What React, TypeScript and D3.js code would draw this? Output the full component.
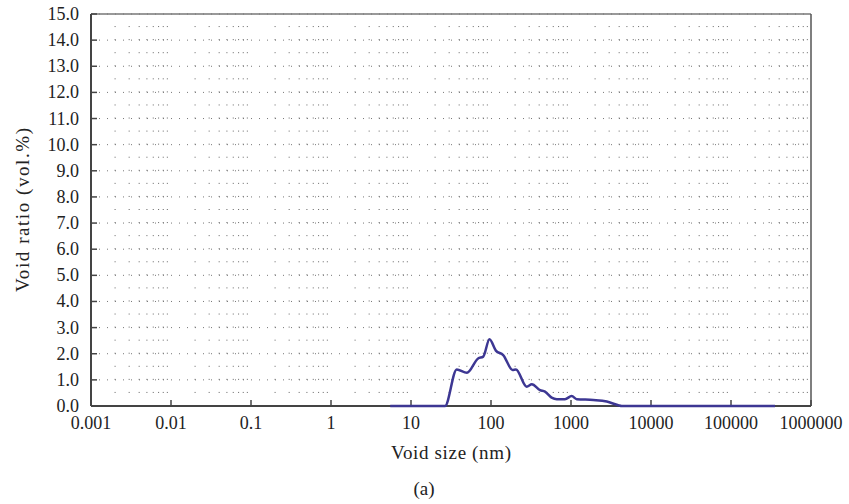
import React from "react";
import * as d3 from "d3";

const sizes = [5.5, 26.6, 37.3, 50, 69, 80, 95.7, 115, 142, 186, 205, 279, 324, 410, 473, 573, 665, 841, 1020, 1180, 1900, 2800, 3900, 4300, 355000];
const ratios = [0, 0, 1.4, 1.27, 1.82, 1.89, 2.55, 2.12, 1.95, 1.38, 1.4, 0.74, 0.83, 0.61, 0.55, 0.32, 0.26, 0.26, 0.38, 0.26, 0.23, 0.17, 0.03, 0, 0];
const xTickValues = [0.001, 0.01, 0.1, 1, 10, 100, 1000, 10000, 100000, 1000000];
const xTickLabels = ["0.001", "0.01", "0.1", "1", "10", "100", "1000", "10000", "100000", "1000000"];
const yTickValues = d3.range(0, 15.01, 1);

const W = 849, H = 504;
const L = 91, R = 811, T = 14, B = 406;
const FONT = "'Liberation Serif', 'DejaVu Serif', serif";

export default function App() {
  const x = d3.scaleLog().domain([0.001, 1000000]).range([L, R]);
  const y = d3.scaleLinear().domain([0, 15]).range([B, T]);
  const line = d3.line<number>()
    .x((_, i) => x(sizes[i]))
    .y((d) => y(d))
    .curve(d3.curveMonotoneX);

  const minors: number[] = [];
  for (let e = -3; e < 6; e++) for (let m = 2; m <= 9; m++) minors.push(m * Math.pow(10, e));
  const halfStep = y(0) - y(0.5);

  return (
    <svg width={W} height={H} style={{ position: "absolute", left: 0, top: 0 }}>
      <rect width={W} height={H} fill="#fff" />
      {minors.map((m, i) => (
        <line key={"v" + i} x1={x(m)} x2={x(m)} y1={y(0) - halfStep} y2={T}
          stroke="#666" strokeWidth={1} strokeDasharray={`1,${halfStep - 1}`} />
      ))}
      {yTickValues.filter(v => v > 0).map((v) => (
        <line key={"h" + v} x1={L} x2={R} y1={y(v)} y2={y(v)}
          stroke="#777" strokeWidth={1} strokeDasharray="1,7" />
      ))}
      <line x1={L} x2={R} y1={T} y2={T} stroke="#777" strokeWidth={1.5} />
      <line x1={R} x2={R} y1={T} y2={B} stroke="#555" strokeWidth={1.5} />
      <line x1={L} x2={L} y1={T} y2={B} stroke="#444" strokeWidth={2} />
      <line x1={L} x2={R} y1={B} y2={B} stroke="#444" strokeWidth={2} />
      {yTickValues.map((v) => (
        <g key={"yt" + v}>
          <line x1={L} x2={L + 6} y1={y(v)} y2={y(v)} stroke="#444" strokeWidth={1.5} />
          <text x={L - 12} y={y(v) + 6} textAnchor="end" fontFamily={FONT} fontSize={18} fill="#222">
            {v.toFixed(1)}
          </text>
        </g>
      ))}
      {xTickValues.map((v, i) => (
        <g key={"xt" + i}>
          <line x1={x(v)} x2={x(v)} y1={B} y2={B - 6} stroke="#444" strokeWidth={1.5} />
          <text x={x(v)} y={429} textAnchor="middle" fontFamily={FONT} fontSize={18} fill="#222">
            {xTickLabels[i]}
          </text>
        </g>
      ))}
      <path d={line(ratios) || ""} fill="none" stroke="#3d3793" strokeWidth={2.5} strokeLinejoin="round" />
      <text x={451} y={459} textAnchor="middle" fontFamily={FONT} fontSize={19} fill="#222"
        textLength={120} lengthAdjust="spacing">Void size (nm)</text>
      <text transform={`translate(29,210) rotate(-90)`} textAnchor="middle" fontFamily={FONT} fontSize={19} fill="#222"
        textLength={164} lengthAdjust="spacing">Void ratio (vol.%)</text>
      <text x={424} y={495} textAnchor="middle" fontFamily={FONT} fontSize={19} fill="#222">(a)</text>
    </svg>
  );
}
